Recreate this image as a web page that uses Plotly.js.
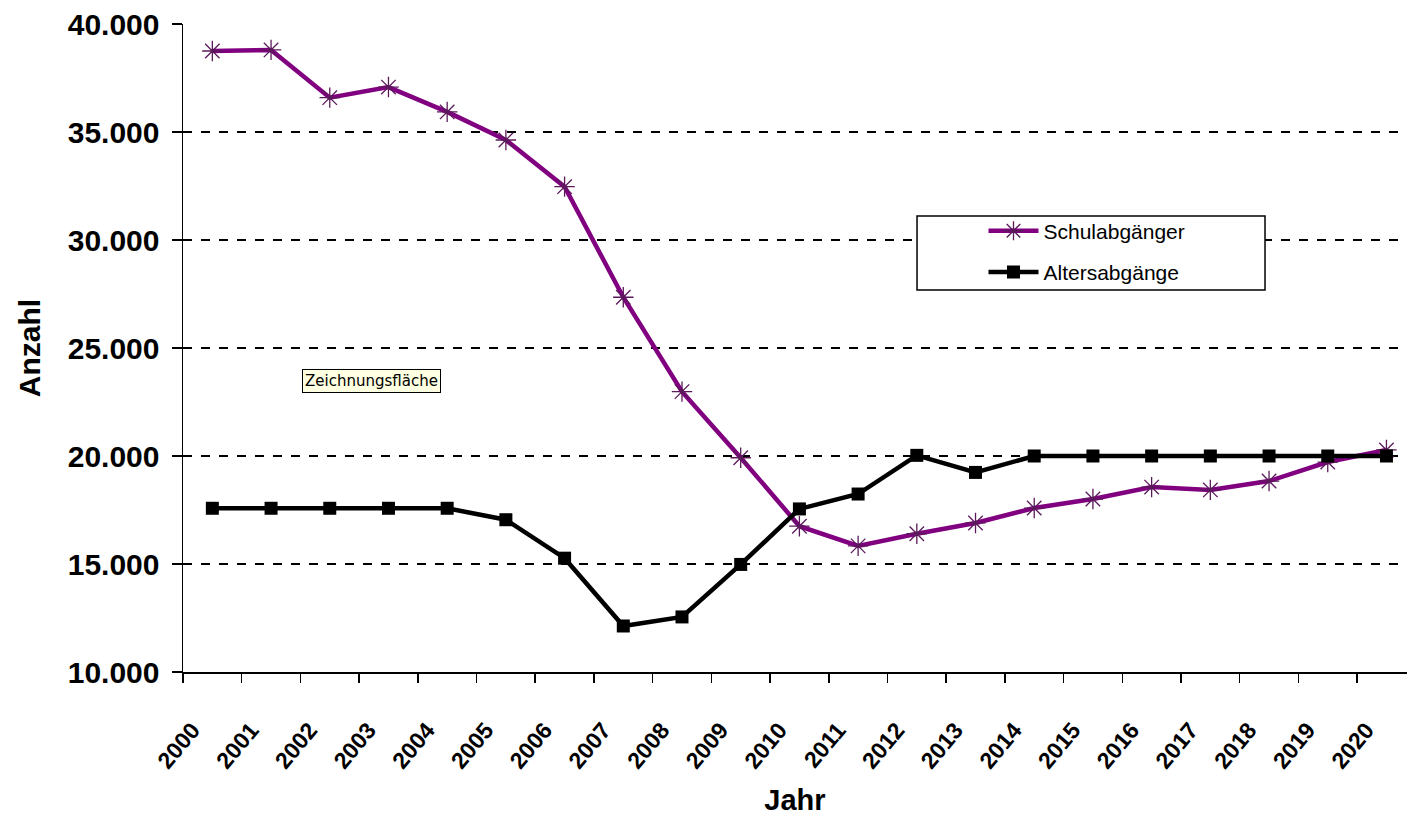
<!DOCTYPE html>
<html>
<head>
<meta charset="utf-8">
<script src="https://cdn.plot.ly/plotly-3.0.1.min.js"></script>
<style>
html,body{margin:0;padding:0;background:#fff;overflow:hidden;}
#chart{width:1408px;height:816px;}
</style>
</head>
<body>
<div id="chart"></div>
<script>
const years = ['2000','2001','2002','2003','2004','2005','2006','2007','2008','2009','2010',
               '2011','2012','2013','2014','2015','2016','2017','2018','2019','2020'];
const schulabgaenger = [38750,38800,36590,37080,35930,34630,32470,27350,22980,19920,16750,
                        15840,16400,16900,17590,18010,18560,18430,18840,19720,20280];
const altersabgaenge = [17580,17580,17580,17580,17580,17050,15270,12130,12550,14980,17550,
                        18240,20030,19240,20000,20000,20000,20000,20000,20000,20000];
const yTickVals = [10000,15000,20000,25000,30000,35000,40000];
const yTickText = ['10.000','15.000','20.000','25.000','30.000','35.000','40.000'];

const FONT = 'Liberation Sans, Arial, sans-serif';

const traces = [
  {
    x: years, y: schulabgaenger, name: 'Schulabgänger', type: 'scatter', mode: 'lines+markers',
    line: {color: '#800080', width: 4.5},
    marker: {symbol: 'asterisk-open', size: 17, color: '#5a1a5a', line: {color: '#5a1a5a', width: 1.3}},
    legendgroup: 'a'
  },
  {
    x: years, y: altersabgaenge, name: 'Altersabgänge', type: 'scatter', mode: 'lines+markers',
    line: {color: '#000000', width: 4.5},
    marker: {symbol: 'square', size: 13, color: '#000000'},
    legendgroup: 'b'
  }
];

const layout = {
  width: 1408, height: 816,
  margin: {l: 183, r: 1, t: 24, b: 144},
  paper_bgcolor: '#ffffff', plot_bgcolor: '#ffffff',
  font: {family: FONT, color: '#000'},
  showlegend: true,
  legend: {
    x: 0.654, y: 0.712, xanchor: 'left', yanchor: 'top',
    bgcolor: 'rgba(0,0,0,0)', borderwidth: 0,
    font: {family: FONT, size: 21, color: '#000'},
    itemwidth: 50, tracegroupgap: 11
  },
  xaxis: {
    type: 'category', range: [-0.5, 20.35],
    showline: true, linecolor: '#000', linewidth: 1.5,
    ticks: 'outside', ticklen: 9, tickcolor: '#000', tickwidth: 1.5,
    tickson: 'boundaries',
    showgrid: false, zeroline: false,
    tickangle: -50,
    tickfont: {family: FONT, size: 23, weight: 'bold', color: '#000'},
    ticklabelstandoff: 34, ticklabelshift: -20,
    title: {text: 'Jahr', font: {family: FONT, size: 29, weight: 'bold', color: '#000'}, standoff: 18}
  },
  yaxis: {
    range: [10000, 40000],
    tickvals: yTickVals, ticktext: yTickText,
    showline: true, linecolor: '#000', linewidth: 1.5,
    ticks: 'outside', ticklen: 10, tickcolor: '#000', tickwidth: 1.5,
    showgrid: true, gridcolor: '#000', gridwidth: 1.5, griddash: 'dash',
    zeroline: false,
    tickfont: {family: FONT, size: 30, weight: 'bold', color: '#000'},
    ticklabelstandoff: 6,
    title: {text: 'Anzahl', font: {family: FONT, size: 30, weight: 'bold', color: '#000'}, standoff: 18}
  },
  shapes: [
    {type: 'rect', xref: 'paper', yref: 'paper', x0: 0.5997, x1: 0.884, y0: 0.5895, y1: 0.7037,
     line: {color: '#000', width: 1.5}, fillcolor: '#ffffff', layer: 'above'}
  ],
  annotations: [
    {xref: 'paper', yref: 'paper', x: 0.0972, y: 0.4676, xanchor: 'left', yanchor: 'top',
     text: 'Zeichnungsfläche', showarrow: false,
     font: {family: 'DejaVu Sans, sans-serif', size: 15, color: '#000'},
     bgcolor: '#FFFFE1', bordercolor: '#000', borderwidth: 1, borderpad: 2}
  ]
};

Plotly.newPlot('chart', traces, layout, {displayModeBar: false, staticPlot: true});
</script>
</body>
</html>
